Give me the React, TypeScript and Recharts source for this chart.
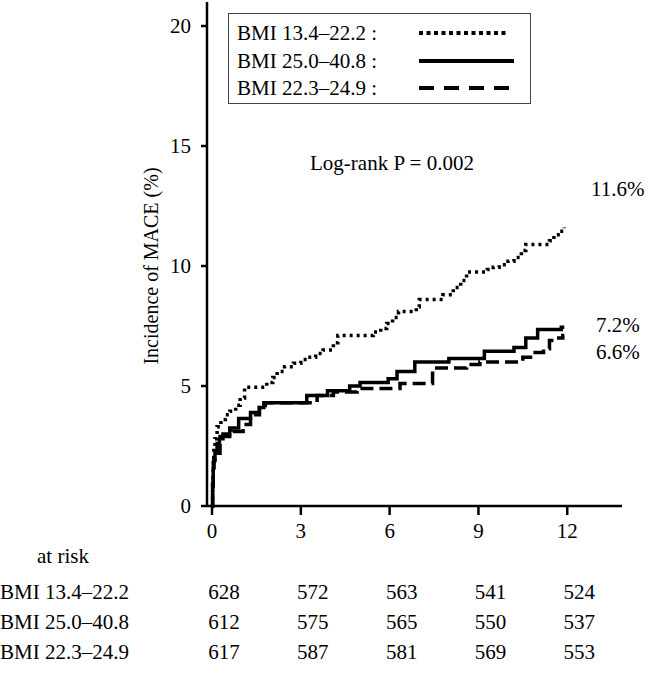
import { LineChart, Line, XAxis, YAxis } from 'recharts';

// axis ticks
const monthTicks = [0, 3, 6, 9, 12];
const pctTicks = [0, 5, 10, 15, 20];

const groupNames = ['BMI 13.4–22.2', 'BMI 25.0–40.8', 'BMI 22.3–24.9'];

// cumulative incidence of MACE (%) : [month, value]
const bmiLow: [number, number][] = [
  [0, 0], [0.02, 1.0], [0.04, 1.8], [0.06, 2.4], [0.1, 2.8], [0.17, 3.3], [0.3, 3.6],
  [0.45, 3.8], [0.6, 3.95], [0.8, 4.2], [0.95, 4.5], [1.1, 4.95], [1.85, 5.15], [2.05, 5.35],
  [2.2, 5.6], [2.45, 5.8], [2.75, 5.95], [3.0, 6.1], [3.2, 6.2], [3.5, 6.35], [3.75, 6.5],
  [4.1, 6.8], [4.25, 7.1], [5.45, 7.25], [5.7, 7.4], [5.9, 7.6], [6.1, 7.85], [6.3, 8.1],
  [6.9, 8.3], [7.0, 8.6], [7.8, 8.8], [8.15, 9.1], [8.4, 9.4], [8.6, 9.75], [9.3, 9.85],
  [9.5, 9.95], [9.7, 10.05], [10.0, 10.2], [10.2, 10.35], [10.45, 10.65], [10.6, 10.9],
  [11.4, 11.05], [11.55, 11.3], [11.75, 11.45], [11.9, 11.6],
];

const bmiHigh: [number, number][] = [
  [0, 0], [0.02, 0.9], [0.04, 1.6], [0.06, 2.0], [0.1, 2.3], [0.17, 2.6], [0.25, 2.8],
  [0.37, 3.0], [0.6, 3.25], [0.9, 3.65], [1.3, 3.9], [1.6, 4.1], [1.75, 4.3], [3.2, 4.6],
  [3.9, 4.8], [4.65, 5.0], [5.0, 5.15], [5.95, 5.3], [6.25, 5.6], [6.85, 6.0], [8.0, 6.15],
  [9.2, 6.45], [10.2, 6.6], [10.6, 7.0], [11.0, 7.35], [11.8, 7.45], [11.9, 7.45],
];

const bmiMid: [number, number][] = [
  [0, 0], [0.02, 0.8], [0.04, 1.5], [0.06, 1.9], [0.1, 2.2], [0.27, 2.9], [0.7, 3.1],
  [1.05, 3.4], [1.3, 3.8], [1.6, 4.1], [1.8, 4.3], [3.55, 4.6], [4.1, 4.75], [4.9, 4.9],
  [6.35, 5.1], [7.45, 5.75], [8.6, 5.9], [9.05, 6.0], [10.5, 6.2], [10.85, 6.4], [11.2, 6.55],
  [11.4, 6.9], [11.65, 7.0], [11.85, 7.1], [11.9, 7.1],
];

// number at risk at each tick month
const atRiskLow = [628, 572, 563, 541, 524];
const atRiskHigh = [612, 575, 565, 550, 537];
const atRiskMid = [617, 587, 581, 569, 553];

const endLabels = ['11.6%', '7.2%', '6.6%'];

const toRows = (pts: [number, number][]) => pts.map(([t, v]) => ({ t, v }));

const series = [
  { name: groupNames[0], data: toRows(bmiLow), dash: '3 4' },
  { name: groupNames[1], data: toRows(bmiHigh), dash: undefined },
  { name: groupNames[2], data: toRows(bmiMid), dash: '13 6' },
];

const atRiskRows = [atRiskLow, atRiskHigh, atRiskMid];

const FONT = 'Liberation Serif, DejaVu Serif, serif';
const X_MIN = -0.17;
const X_MAX = 13.85;
const PLOT_LEFT = 207;
const PLOT_W = 415;
const xPx = (t: number) => PLOT_LEFT + ((t - X_MIN) / (X_MAX - X_MIN)) * PLOT_W;

const txt = (left: number, top: number, s: string) => (
  <div
    key={s + left + top}
    style={{ position: 'absolute', left, top: top - 12, height: 24, lineHeight: '24px', whiteSpace: 'nowrap' }}
  >
    {s}
  </div>
);

export default function App() {
  return (
    <div style={{ position: 'absolute', left: 0, top: 0, width: 650, height: 673, fontFamily: FONT, fontSize: 21, color: '#000', background: '#fff' }}>
      <LineChart width={650} height={560} margin={{ top: 2, right: 28, left: 147, bottom: 24 }} style={{ fontFamily: FONT }}>
        <XAxis
          type="number"
          dataKey="t"
          domain={[X_MIN, X_MAX]}
          ticks={monthTicks}
          allowDataOverflow
          height={30}
          tickSize={9}
          tickMargin={8}
          stroke="#000"
          strokeWidth={2.5}
          tick={{ fill: '#000', fontSize: 21, fontFamily: FONT }}
        />
        <YAxis
          type="number"
          domain={[0, 21]}
          ticks={pctTicks}
          width={60}
          tickSize={6}
          tickMargin={10}
          stroke="#000"
          strokeWidth={2.5}
          tick={{ fill: '#000', fontSize: 21, fontFamily: FONT }}
          label={{
            value: 'Incidence of MACE (%)',
            angle: -90,
            position: 'insideLeft',
            offset: 4,
            dy: 12,
            style: { fill: '#000', fontSize: 20, fontFamily: FONT, textAnchor: 'middle' },
          }}
        />
        {series.map((s) => (
          <Line
            key={s.name}
            data={s.data}
            dataKey="v"
            name={s.name}
            type="stepAfter"
            stroke="#000"
            strokeWidth={3.5}
            strokeDasharray={s.dash}
            dot={false}
            isAnimationActive={false}
          />
        ))}
      </LineChart>

      {/* legend box */}
      <div style={{ position: 'absolute', left: 228, top: 13, width: 301, height: 89, border: '1.5px solid #444' }}>
        {series.map((s, i) => (
          <div key={s.name}>
            {txt(8, 19 + i * 27.5, s.name + ' :')}
            <svg style={{ position: 'absolute', left: 188, top: 19 + i * 27.5 - 4 }} width={100} height={8}>
              <line x1={2} y1={4} x2={i === 1 ? 97 : 92} y2={4} stroke="#000" strokeWidth={4} strokeDasharray={i === 0 ? '4 3.5' : i === 2 ? '15 10' : undefined} />
            </svg>
          </div>
        ))}
      </div>

      {txt(310, 163, 'Log-rank P = 0.002')}
      {txt(591, 189, endLabels[0])}
      {txt(596, 325, endLabels[1])}
      {txt(596, 352, endLabels[2])}

      {/* number at risk */}
      {txt(37, 556, 'at risk')}
      {atRiskRows.map((row, r) => (
        <div key={r}>
          {txt(0, 592 + r * 30, groupNames[r])}
          {row.map((n, c) => (
            <div
              key={c}
              style={{ position: 'absolute', left: xPx(monthTicks[c]) + 12 - 30, width: 60, top: 592 + r * 30 - 12, height: 24, lineHeight: '24px', textAlign: 'center' }}
            >
              {n}
            </div>
          ))}
        </div>
      ))}
    </div>
  );
}
